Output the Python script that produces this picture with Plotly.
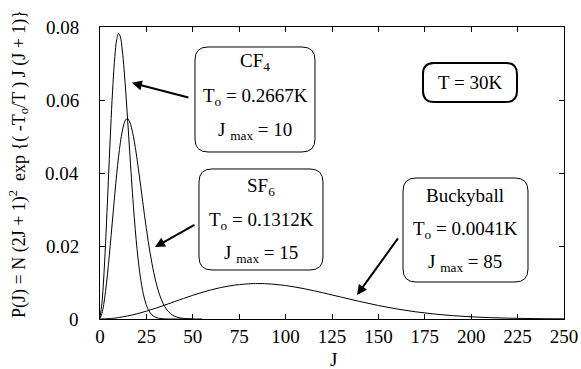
import plotly.graph_objects as go

# ---- data ----
cf4_J = [0, 1, 2, 3, 4, 5, 6, 7, 8, 9, 10, 11, 12, 13, 14, 15, 16, 18, 20, 22, 24, 26, 28, 30, 33, 36, 40, 50]
cf4_P = [0.00047, 0.00417, 0.01119, 0.02079, 0.0320, 0.04374, 0.0549, 0.06455, 0.07192, 0.07655, 0.07828,
         0.07723, 0.07371, 0.06823, 0.06137, 0.0537, 0.0458, 0.0309, 0.01897, 0.01064, 0.00547, 0.00258,
         0.00112, 0.00045, 0.0001, 0.00002, 0.0, 0.0]

sf6_J = [0, 1, 2, 3, 4, 5, 6, 7, 8, 9, 10, 11, 12, 13, 14, 15, 16, 17, 18, 19, 20, 22, 24, 26, 28, 30,
         32, 34, 36, 38, 40, 43, 46, 50, 55]
sf6_P = [0.00016, 0.00145, 0.00397, 0.00758, 0.01209, 0.01729, 0.02292, 0.02870, 0.03438, 0.03969, 0.04443,
         0.04840, 0.05149, 0.05360, 0.05471, 0.05483, 0.05402, 0.05237, 0.05001, 0.04705, 0.04366, 0.03611,
         0.02838, 0.02125, 0.0152, 0.01039, 0.0068, 0.00426, 0.00256, 0.00148, 0.00082, 0.00031, 0.00011,
         0.00002, 0.0]

bucky_J = [0, 5, 10, 20, 30, 40, 50, 60, 70, 80, 85, 90, 100, 110, 120, 130, 140, 150, 160, 170, 180,
           190, 200, 210, 220, 230, 240, 250]
bucky_P = [0.0, 0.000109, 0.000392, 0.001431, 0.002955, 0.004729, 0.006492, 0.008006, 0.009090, 0.009642,
           0.00971, 0.009646, 0.009163, 0.008301, 0.0072, 0.005992, 0.004797, 0.003697, 0.002749, 0.001973,
           0.001369, 0.000918, 0.000596, 0.000375, 0.000228, 0.000135, 0.000077, 0.000043]

x_ticks = [0, 25, 50, 75, 100, 125, 150, 175, 200, 225, 250]
y_ticks = [0, 0.02, 0.04, 0.06, 0.08]
y_tick_labels = ["0", "0.02", "0.04", "0.06", "0.08"]

FONT = "Liberation Serif, Times New Roman, Times, serif"
W, H = 581, 369
L, R, T, B = 100, 564, 27, 319


def px(xp):
    return (xp - L) / (R - L)


def py(yp):
    return (B - yp) / (B - T)


def rounded(x0, y0, x1, y1, r):
    pts = [
        ("M", (x0 + r, y0)), ("L", (x1 - r, y0)), ("Q", (x1, y0), (x1, y0 + r)),
        ("L", (x1, y1 - r)), ("Q", (x1, y1), (x1 - r, y1)), ("L", (x0 + r, y1)),
        ("Q", (x0, y1), (x0, y1 - r)), ("L", (x0, y0 + r)), ("Q", (x0, y0), (x0 + r, y0)),
    ]
    s = ""
    for p in pts:
        coords = " ".join(f"{px(a):.5f},{py(b):.5f}" for a, b in p[1:])
        s += f"{p[0]} {coords} "
    return s + "Z"


fig = go.Figure()
for xs, ys in [(cf4_J, cf4_P), (sf6_J, sf6_P), (bucky_J, bucky_P)]:
    fig.add_trace(go.Scatter(x=xs, y=ys, mode="lines", line=dict(color="black", width=1, shape="spline"),
                             showlegend=False, hoverinfo="skip"))

tick_font = dict(family=FONT, size=19, color="black")
axis_common = dict(showline=True, linecolor="black", linewidth=1, mirror="ticks", ticks="inside",
                   ticklen=5, tickcolor="black", showgrid=False, zeroline=False, automargin=False,
                   tickfont=tick_font)

fig.update_xaxes(range=[0, 250], tickvals=x_ticks, **axis_common)
fig.update_yaxes(range=[0, 0.08], tickvals=y_ticks, showticklabels=False, **axis_common)

shapes = [
    dict(type="path", xref="paper", yref="paper", path=rounded(195, 47, 315, 152, 13),
         line=dict(color="black", width=1)),
    dict(type="path", xref="paper", yref="paper", path=rounded(199, 169, 323, 270, 13),
         line=dict(color="black", width=1)),
    dict(type="path", xref="paper", yref="paper", path=rounded(403, 178, 528, 282, 13),
         line=dict(color="black", width=1)),
    dict(type="path", xref="paper", yref="paper", path=rounded(423, 63, 517, 102, 11),
         line=dict(color="black", width=2)),
]

texts = [
    ("CF<sub>4</sub>", 255, 62),
    ("T<sub>o</sub> = 0.2667K", 255, 97),
    ("J <sub>max</sub> = 10", 255, 131),
    ("SF<sub>6</sub>", 261, 187),
    ("T<sub>o</sub> = 0.1312K", 261, 221),
    ("J <sub>max</sub> = 15", 261, 254),
    ("Buckyball", 465, 195),
    ("T<sub>o</sub> = 0.0041K", 465, 230),
    ("J <sub>max</sub> = 85", 465, 263),
    ("T = 30K", 470, 82),
    ("J", 333, 359),
]
annotations = []
for txt, xp, yp in texts:
    annotations.append(dict(text=txt, xref="paper", yref="paper", x=px(xp), y=py(yp), xanchor="center",
                            yanchor="middle", showarrow=False, font=dict(family=FONT, size=19, color="black")))

# y tick labels, placed at their axis values
for val, lab in zip(y_ticks, y_tick_labels):
    annotations.append(dict(text=lab, xref="paper", yref="y", x=px(81), y=val, xanchor="right",
                            yanchor="middle", showarrow=False, font=tick_font))

# arrows: tip (J, P) and tail offsets in pixels
arrows = [(17.2, 0.0647, 58, 15), (29.6, 0.0197, 41, -23), (138.5, 0.0066, 42, -58)]
for xj, yv, ax, ay in arrows:
    annotations.append(dict(x=xj, y=yv, xref="x", yref="y", text="", showarrow=True, arrowhead=2,
                            arrowsize=1, arrowwidth=2, arrowcolor="black", ax=ax, ay=ay, standoff=0))

annotations.append(dict(text="P(J) = N (2J + 1)<sup>2</sup>  exp {( -T<sub>o</sub>/T ) J (J + 1)}",
                        xref="paper", yref="paper", x=px(18), y=py(164), textangle=-90, showarrow=False,
                        xanchor="center", yanchor="middle", font=dict(family=FONT, size=18, color="black")))

fig.update_layout(width=W, height=H, margin=dict(l=L, r=W - R, t=T, b=H - B),
                  font=dict(family=FONT, size=19, color="black"),
                  paper_bgcolor="white", plot_bgcolor="white", shapes=shapes, annotations=annotations)

fig.write_html("out.html", config={"displayModeBar": False},
               post_script="document.body.style.margin='0';document.body.style.overflow='hidden';")
